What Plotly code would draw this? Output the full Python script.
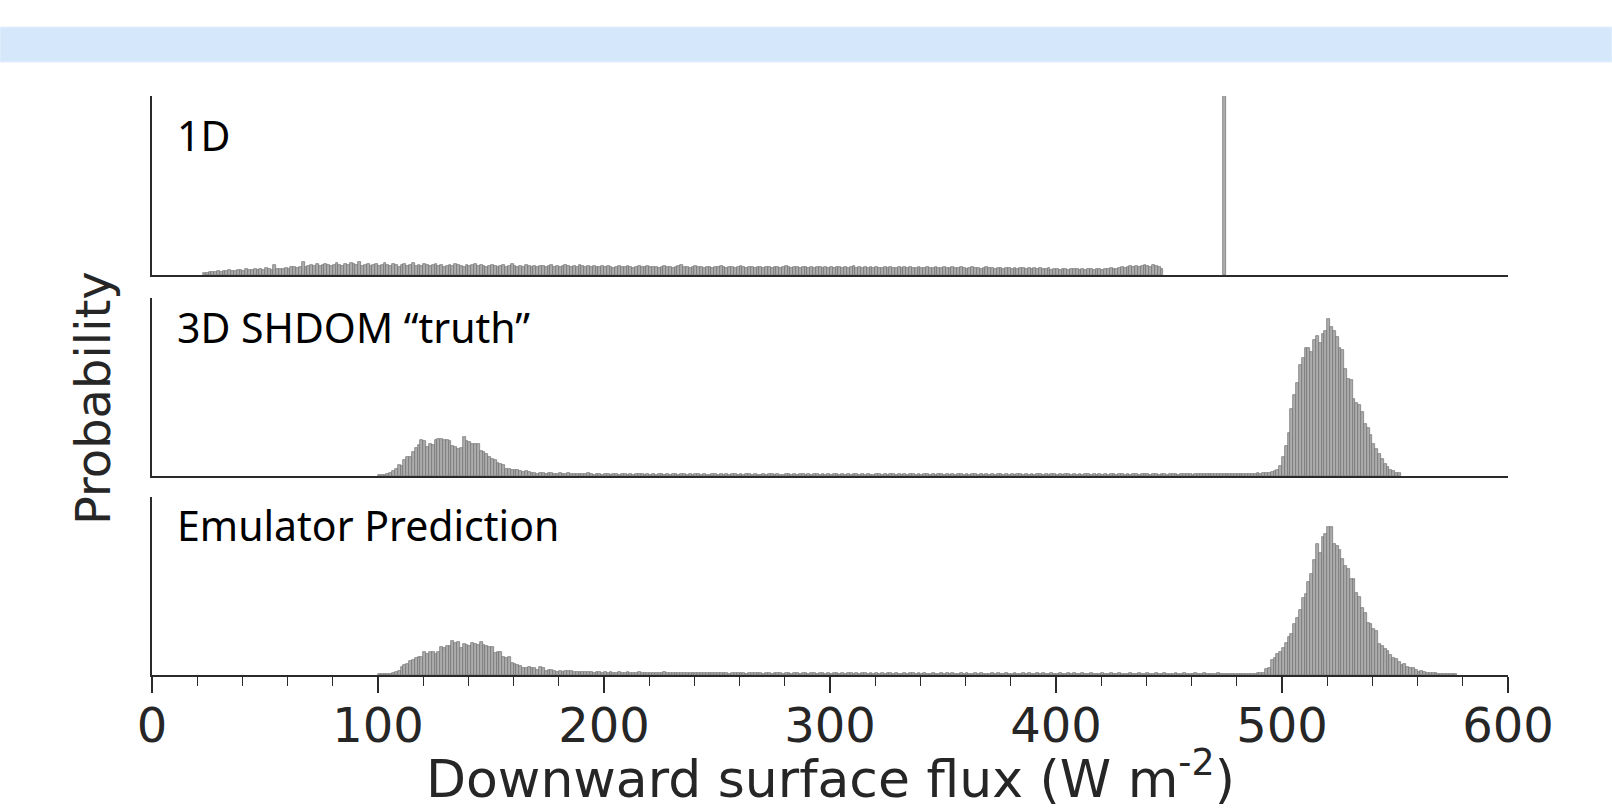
import plotly.graph_objects as go

# ---------------- data (probability, arbitrary units; bins of 1.25 W m-2) ----------------
BIN_WIDTH = 1.25

one_d_first_bin = 18
one_d_values = [
    2, 2, 3, 3, 3, 4, 3, 4, 4, 5, 4, 4, 5, 5, 4, 6, 5, 5, 6, 5,
    6, 5, 7, 6, 5, 10, 6, 6, 6, 7, 6, 8, 8, 7, 8, 13, 8, 9, 10, 9,
    11, 9, 10, 11, 10, 9, 10, 12, 10, 9, 11, 10, 12, 11, 10, 13, 9, 10, 11, 9,
    10, 11, 9, 10, 12, 10, 9, 11, 10, 8, 10, 11, 9, 10, 12, 9, 10, 9, 11, 10,
    9, 10, 11, 9, 10, 8, 9, 10, 9, 11, 10, 9, 8, 10, 9, 10, 11, 9, 10, 9,
    8, 9, 10, 9, 8, 9, 10, 8, 9, 11, 9, 8, 9, 8, 10, 9, 8, 9, 8, 9,
    9, 8, 9, 10, 8, 9, 8, 9, 10, 9, 8, 9, 8, 10, 9, 8, 9, 8, 9, 8,
    8, 9, 8, 9, 8, 7, 8, 9, 8, 8, 9, 8, 7, 8, 9, 8, 8, 9, 8, 8,
    8, 7, 8, 9, 8, 8, 7, 8, 9, 10, 8, 8, 7, 8, 9, 8, 8, 7, 8, 8,
    7, 8, 8, 9, 8, 7, 8, 8, 7, 8, 9, 8, 7, 8, 8, 7, 8, 8, 7, 8,
    8, 7, 8, 8, 7, 8, 9, 8, 7, 8, 8, 7, 8, 8, 7, 8, 7, 8, 8, 7,
    8, 7, 8, 7, 8, 8, 7, 8, 7, 8, 9, 7, 8, 7, 8, 7, 8, 7, 8, 7,
    7, 8, 7, 8, 7, 7, 8, 7, 8, 7, 8, 7, 7, 8, 7, 7, 8, 7, 7, 8,
    7, 7, 8, 7, 7, 8, 7, 7, 8, 7, 6, 7, 8, 7, 7, 6, 7, 8, 7, 7,
    6, 7, 7, 6, 7, 7, 6, 7, 6, 7, 7, 6, 7, 6, 7, 6, 7, 6, 6, 7,
    5, 6, 6, 5, 6, 6, 5, 6, 6, 6, 5, 6, 5, 6, 6, 5, 6, 6, 5, 6,
    6, 7, 6, 6, 7, 8, 7, 8, 9, 8, 9, 8, 9, 10, 9, 8, 10, 9, 8, 6,
]
one_d_spike_bin = 379
one_d_spike_value = 179

shdom_first_bin = 80
shdom_values = [
    # 100 - 194 W m-2 (lower mode)
    1.5, 1.5, 1.5, 2, 3, 5, 7, 11, 10, 16, 19, 19, 24, 28, 31, 36, 35, 29, 32, 31,
    36, 37, 37, 36, 36, 35, 30, 29, 27, 28, 39, 35, 34, 32, 32, 32, 25, 24, 22, 19,
    17, 16, 13, 12, 11, 7, 7, 6, 6, 6, 5, 4, 5, 4, 3, 3, 2, 3, 3, 2,
    3, 3.5, 2, 2, 3, 2, 2, 3, 2, 2, 2, 2, 2, 2, 3,
    # 194 - 476 W m-2 (flat part)
    2, 1.5, 2, 2, 1.5, 2, 2.5, 1.5, 2, 2, 1.5, 2, 2, 1.5, 2, 1.5, 2, 2.5, 2, 1.5,
    2, 1.5, 2, 1.5, 2, 2, 1.5, 2, 1.5, 2, 2, 1.5, 2.5, 2, 1.5, 2, 1.5, 2, 2, 1.5,
    2, 1.5, 1.5, 2, 2, 1.5, 2, 1.5, 2, 1.5, 2, 2.5, 1.5, 2, 1.5, 2, 2, 1.5, 2, 1.5,
    1.5, 2, 1.5, 2, 2, 1.5, 2, 1.5, 1.5, 2, 2, 1.5, 2, 1.5, 2, 2.5, 1.5, 2, 1.5, 2,
    2, 1.5, 2, 1.5, 2, 1.5, 2, 2, 1.5, 2, 1.5, 2, 1.5, 2, 2, 1.5, 2, 1.5, 2, 1.5,
    1.5, 2, 2, 1.5, 2, 1.5, 2.5, 2, 1.5, 2, 1.5, 2, 1.5, 2, 2, 1.5, 2, 1.5, 2, 2,
    1.5, 2, 1.5, 2, 2, 1.5, 2, 1.5, 2, 1.5, 2, 2, 1.5, 2, 1.5, 2, 2.5, 1.5, 2, 1.5,
    2, 1.5, 2, 1.5, 2, 2, 1.5, 2, 1.5, 2, 1.5, 2, 2, 1.5, 2, 1.5, 2, 1.5, 2, 2,
    1.5, 2, 1.5, 2, 2.5, 1.5, 2, 1.5, 2, 2, 1.5, 2, 1.5, 2, 1.5, 2, 2, 1.5, 2, 1.5,
    2, 1.5, 2, 1.5, 2, 2, 1.5, 2, 2, 1.5, 2, 1.5, 2, 2, 1.5, 2, 2.5, 2, 1.5, 2,
    2, 1.5, 2, 2, 1.5, 2, 2.5, 2, 1.5, 2, 2, 2.5, 2, 1.5, 2, 2, 2.5, 2, 2, 2.5,
    2, 2.5, 2, 2, 2.5, 2,
    # 476 - 553 W m-2 (upper mode)
    2, 2, 2.5, 2, 2, 2.5, 2, 2.5, 2, 2.5, 3, 2.5, 3, 3, 3.5,
    4, 5, 6, 10, 19, 30, 43, 67, 81, 93, 111, 118, 128, 128, 124,
    136, 140, 133, 142, 145, 157, 149, 145, 139, 128, 126, 107, 97, 96, 77,
    73, 71, 64, 52, 48, 41, 32, 27, 22, 17, 12, 9, 6, 5, 3, 3,
]

emu_first_bin = 80
emu_values = [
    # 100 - 194 W m-2 (lower mode)
    1, 1, 1, 1, 1.5, 2, 3, 4, 8, 10, 11, 14, 15, 17, 18, 18, 23, 21, 23, 23,
    21, 23, 28, 27, 29, 29, 34, 32, 33, 27, 31, 30, 29, 32, 31, 30, 33, 30, 29, 28,
    28, 22, 23, 23, 18, 17, 18, 12, 11, 10, 9, 7, 7, 8, 7, 7, 5, 8, 7, 4,
    5, 5, 4, 3, 4, 3, 4, 4, 4, 3, 3, 3, 3, 3, 3,
    # 194 - 480 W m-2 (flat part)
    3, 2.5, 3, 3, 2.5, 3, 2.5, 3, 2.5, 2.5, 3, 2.5, 2.5, 3, 2.5, 2, 2.5, 3, 2.5, 2.5,
    2.5, 2, 2.5, 2.5, 2, 2.5, 3, 2, 2.5, 2, 2.5, 2.5, 2, 2.5, 2, 2.5, 2, 2, 2.5, 2,
    2, 2.5, 2, 2, 2.5, 2, 2, 2.5, 2, 1.5, 2, 2, 2.5, 2, 2, 1.5, 2, 2.5, 2, 2,
    2, 1.5, 2, 2, 1.5, 2, 2.5, 2, 1.5, 2, 2, 1.5, 2, 2, 1.5, 2, 2, 1.5, 2, 2,
    1.5, 2, 2, 1.5, 2, 1.5, 2, 2, 1.5, 2, 1.5, 2, 2.5, 1.5, 2, 1.5, 2, 2, 1.5, 2,
    1.5, 2, 1.5, 2, 1.5, 2, 2, 1.5, 2, 1.5, 1.5, 2, 1.5, 2, 2, 1.5, 2, 1.5, 2, 1.5,
    1.5, 2, 1.5, 1.5, 2, 1.5, 2, 1.5, 2, 1.5, 1.5, 2, 1.5, 2, 1.5, 1.5, 2, 1.5, 2, 1.5,
    1.5, 1.5, 2, 1.5, 2, 1.5, 1.5, 2, 1.5, 1.5, 2, 1.5, 1.5, 2, 1.5, 2, 1.5, 1.5, 2, 1.5,
    2, 1.5, 1.5, 2, 1.5, 1.5, 2, 1.5, 1.5, 2, 1.5, 2, 1.5, 1.5, 2, 1.5, 1.5, 2, 1.5, 1.5,
    1.5, 2, 1.5, 1.5, 2, 1.5, 1.5, 2, 1.5, 1.5, 1.5, 2, 1.5, 1.5, 2, 1.5, 1.5, 2, 1.5, 1.5,
    2, 1.5, 1.5, 2, 1.5, 1.5, 1.5, 2, 1.5, 1.5, 2, 1.5, 1.5, 1.5, 2, 1.5, 1.5, 2, 1.5, 1.5,
    1.5, 1.5, 2, 1.5, 1.5, 1.5, 1.5, 1.5, 1.5,
    # 480 - 578 W m-2 (upper mode)
    1.5, 1.5, 1.5, 1.5, 1.5, 1.5, 1.5, 2, 2, 2,
    6, 7, 15, 17, 21, 23, 27, 32, 38, 41, 51, 57, 65, 77, 81, 93, 101, 115, 131, 122,
    138, 141, 148, 148, 131, 129, 125, 116, 109, 106, 96, 96, 82, 78, 67, 62, 52, 51, 46, 44,
    31, 29, 26, 24, 20, 17, 16, 13, 10, 11, 8, 7, 7, 5, 3, 4, 3, 2, 2, 2,
    2, 1, 1, 1, 1, 1, 1, 1,
]

panel_max = [179, 178, 178]
panel_labels = ["1D", "3D SHDOM \u201ctruth\u201d", "Emulator Prediction"]
x_tick_values = [0, 100, 200, 300, 400, 500, 600]
x_tick_labels = ["0", "100", "200", "300", "400", "500", "600"]
x_title = "Downward surface flux (W m<sup>-2</sup>)"
y_title = "Probability"

# ---------------- figure ----------------
W, H = 1612, 811
FILL = "#acacac"
EDGE = "#707070"
AXIS = "#2a2a2a"


def centers(first_bin, n):
    return [(first_bin + i + 0.5) * BIN_WIDTH for i in range(n)]


def px(xp):
    return xp / W


def py(yp):
    return 1 - yp / H


fig = go.Figure()
bar_style = dict(marker=dict(color=FILL, line=dict(color=EDGE, width=0.7)),
                 width=BIN_WIDTH, hoverinfo="x+y", showlegend=False)

fig.add_trace(go.Bar(x=centers(one_d_first_bin, len(one_d_values)), y=one_d_values,
                     xaxis="x", yaxis="y", **bar_style))
fig.add_trace(go.Bar(x=centers(one_d_spike_bin, 1), y=[one_d_spike_value],
                     xaxis="x", yaxis="y", **bar_style))
fig.add_trace(go.Bar(x=centers(shdom_first_bin, len(shdom_values)), y=shdom_values,
                     xaxis="x2", yaxis="y2", **bar_style))
fig.add_trace(go.Bar(x=centers(emu_first_bin, len(emu_values)), y=emu_values,
                     xaxis="x3", yaxis="y3", **bar_style))

x_dom = [px(152), px(1508)]
y_doms = [[py(275), py(96)], [py(476), py(298)], [py(675), py(497)]]

base_x = dict(range=[0, 600], domain=x_dom, showline=True, linecolor=AXIS, linewidth=2,
              showgrid=False, zeroline=False, fixedrange=True, automargin=False)
base_y = dict(showline=True, linecolor=AXIS, linewidth=2, showgrid=False, zeroline=False,
              showticklabels=False, ticks="", fixedrange=True, automargin=False)

layout = dict(
    width=W, height=H, margin=dict(l=0, r=0, t=0, b=0, pad=0), autosize=False,
    template="none",
    paper_bgcolor="white", plot_bgcolor="white", bargap=0, barmode="overlay",
    showlegend=False,
)
for i in range(3):
    sfx = "" if i == 0 else str(i + 1)
    xa = dict(base_x)
    ya = dict(base_y)
    ya["domain"] = y_doms[i]
    ya["range"] = [0, panel_max[i]]
    ya["anchor"] = "x" + sfx
    xa["anchor"] = "y" + sfx
    if i < 2:
        xa.update(showticklabels=False, ticks="")
    else:
        xa.update(ticks="outside", ticklen=16, tickwidth=1.6, tickcolor=AXIS,
                  tickvals=x_tick_values, ticktext=x_tick_labels,
                  ticklabelstandoff=-9,
                  tickfont=dict(family="DejaVu Sans", size=48, color="#262626"),
                  minor=dict(ticks="outside", dtick=20, ticklen=9, tickwidth=1.4,
                             tickcolor=AXIS))
    layout["xaxis" + sfx] = xa
    layout["yaxis" + sfx] = ya

annotations = []
for label, yc in zip(panel_labels, [135, 327, 525]):
    annotations.append(dict(text=label, xref="paper", yref="paper", x=px(175), y=py(yc),
                            xanchor="left", yanchor="middle", showarrow=False,
                            font=dict(family="Noto Sans", size=41, color="black")))
annotations.append(dict(text=y_title, xref="paper", yref="paper", x=px(93), y=py(398),
                        xanchor="center", yanchor="middle", textangle=-90, showarrow=False,
                        font=dict(family="DejaVu Sans", size=48, color="#262626")))
annotations.append(dict(text=x_title, xref="paper", yref="paper", x=px(830), y=0,
                        xanchor="center", yanchor="bottom", yshift=0, showarrow=False,
                        font=dict(family="DejaVu Sans", size=52, color="#262626")))
layout["annotations"] = annotations

layout["shapes"] = [dict(type="rect", xref="paper", yref="paper", x0=0, x1=1,
                         y0=py(62), y1=py(27), fillcolor="#d5e8fb",
                         line=dict(color="#e4f0fc", width=1), layer="below")]

fig.update_layout(**layout)
fig.write_html("out.html")
